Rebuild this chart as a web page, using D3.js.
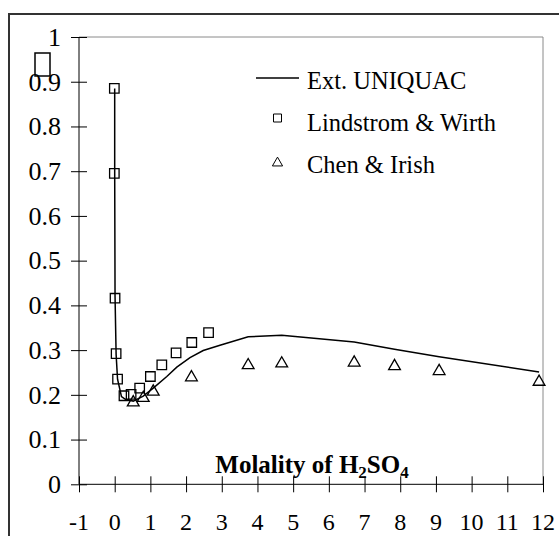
<!DOCTYPE html>
<html><head><meta charset="utf-8">
<script src="https://cdn.jsdelivr.net/npm/d3@7"></script>
<style>body{margin:0;background:#fff}svg{display:block}text{font-family:"Liberation Serif","Times New Roman",serif;fill:#000}</style>
</head><body><svg id="c" width="559" height="536"></svg>
<script>
const xTicks = [-1,0,1,2,3,4,5,6,7,8,9,10,11,12];
const yTicks = [0,0.1,0.2,0.3,0.4,0.5,0.6,0.7,0.8,0.9,1];
const yTickLabels = ["0","0.1","0.2","0.3","0.4","0.5","0.6","0.7","0.8","0.9","1"];
const seriesNames = ["Ext. UNIQUAC","Lindstrom & Wirth","Chen & Irish"];
// Ext. UNIQUAC model curve
const modelX = [0.0,0.0,0.01,0.04,0.08,0.19,0.30,0.52,0.80,1.08,1.46,1.74,2.11,2.48,2.95,3.74,4.68,6.71,7.84,9.09,11.89];
const modelY = [0.885,0.70,0.42,0.29,0.235,0.196,0.190,0.186,0.197,0.215,0.241,0.262,0.283,0.299,0.311,0.330,0.333,0.318,0.302,0.285,0.251];
// Lindstrom & Wirth
const lwX = [-0.01,-0.01,0.01,0.04,0.08,0.26,0.46,0.70,1.00,1.32,1.72,2.16,2.63];
const lwY = [0.885,0.695,0.416,0.292,0.235,0.198,0.201,0.215,0.241,0.267,0.294,0.317,0.339];
// Chen & Irish
const ciX = [0.52,0.80,1.08,2.15,3.74,4.68,6.71,7.84,9.09,11.89];
const ciY = [0.183,0.193,0.207,0.239,0.266,0.270,0.272,0.264,0.253,0.229];

const svg = d3.select("#c");
const x = d3.scaleLinear().domain([-1,12]).range([79,543]);
const y = d3.scaleLinear().domain([0,1]).range([484.3,37]);

// outer frame
svg.append("rect").attr("x",9).attr("y",14).attr("width",600).attr("height",600)
  .attr("fill","none").attr("stroke","#333").attr("stroke-width",2);
// plot area top/right border
svg.append("path").attr("d",`M${x(-1)},${y(1)}H${x(12)}V${y(0)}`)
  .attr("fill","none").attr("stroke","#8a8a8a").attr("stroke-width",1);

// y axis
const yAxis = d3.axisLeft(y).tickValues(yTicks).tickSize(8).tickFormat(d=>"");
const gy = svg.append("g").attr("transform",`translate(${x(-1)},0)`).call(yAxis);
gy.select(".domain").remove();
gy.append("line").attr("y1",y(0)).attr("y2",y(1)).attr("stroke","#000");
gy.selectAll(".tick line").attr("x1",8).attr("x2",-8).attr("stroke","#000");
svg.append("g").selectAll("text").data(yTicks).join("text")
  .attr("x",61).attr("y",d=>y(d)).attr("dy","0.34em").attr("text-anchor","end")
  .attr("font-size",26).text((d,i)=>yTickLabels[i]);

// x axis
const xAxis = d3.axisBottom(x).tickValues(xTicks).tickSize(8).tickFormat(d=>"");
const gx = svg.append("g").attr("transform",`translate(0,${y(0)})`).call(xAxis);
gx.select(".domain").remove();
gx.append("line").attr("x1",x(-1)).attr("x2",x(12)).attr("stroke","#000");
gx.selectAll(".tick line").attr("y1",-8).attr("y2",8).attr("stroke","#000");
svg.append("g").selectAll("text").data(xTicks).join("text")
  .attr("x",d=>x(d)).attr("y",522).attr("dy","0.34em").attr("text-anchor","middle")
  .attr("font-size",24).text(d=>d<0?"-"+Math.abs(d):String(d));

// axis title
const t = svg.append("text").attr("x",312).attr("y",473).attr("text-anchor","middle")
  .attr("font-size",25).attr("font-weight","bold");
t.append("tspan").text("Molality of H");
t.append("tspan").attr("font-size",17).attr("dy",5).text("2");
t.append("tspan").attr("dy",-5).text("SO");
t.append("tspan").attr("font-size",17).attr("dy",5).text("4");

// missing-glyph box (y title)
svg.append("rect").attr("x",35).attr("y",53).attr("width",15).attr("height",23)
  .attr("fill","none").attr("stroke","#000").attr("stroke-width",1.5);

// model line
const line = d3.line().x(d=>x(d[0])).y(d=>y(d[1]));
svg.append("path").datum(modelX.map((v,i)=>[v,modelY[i]])).attr("d",line)
  .attr("fill","none").attr("stroke","#000").attr("stroke-width",1.5);

const sq = d3.symbol().type(d3.symbolSquare).size(90);
const tri = d3.symbol().type(d3.symbolTriangle).size(60);
svg.append("g").selectAll("path").data(lwX.map((v,i)=>[v,lwY[i]])).join("path")
  .attr("transform",d=>`translate(${x(d[0])},${y(d[1])})`).attr("d",sq)
  .attr("fill","none").attr("stroke","#000").attr("stroke-width",1.3);
svg.append("g").selectAll("path").data(ciX.map((v,i)=>[v,ciY[i]])).join("path")
  .attr("transform",d=>`translate(${x(d[0])},${y(d[1])})`).attr("d",tri)
  .attr("fill","none").attr("stroke","#000").attr("stroke-width",1.3);

// legend
const lg = svg.append("g");
lg.append("line").attr("x1",256).attr("x2",299).attr("y1",78).attr("y2",78).attr("stroke","#000").attr("stroke-width",1.5);
lg.append("path").attr("transform","translate(277.5,118)").attr("d",d3.symbol().type(d3.symbolSquare).size(64)).attr("fill","none").attr("stroke","#000");
lg.append("path").attr("transform","translate(277.5,163)").attr("d",d3.symbol().type(d3.symbolTriangle).size(45)).attr("fill","none").attr("stroke","#000");
lg.selectAll("text").data(seriesNames).join("text")
  .attr("x",307).attr("y",(d,i)=>89+i*42).attr("font-size",24.5).text(d=>d);
</script></body></html>
